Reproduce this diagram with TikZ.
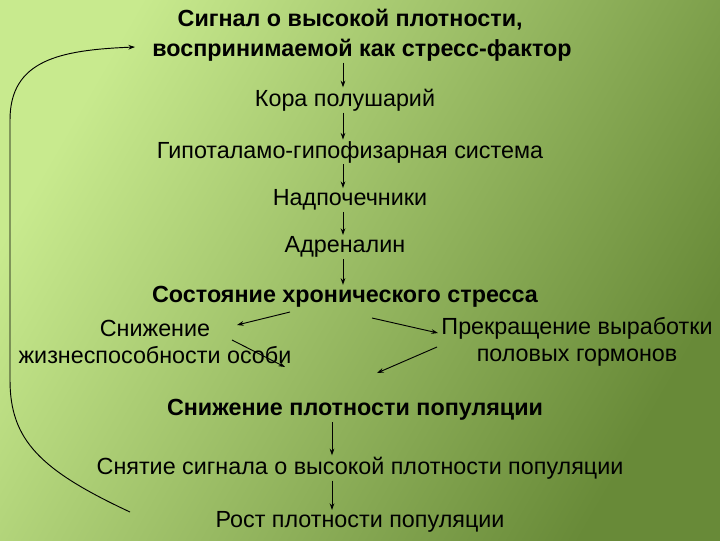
\documentclass[tikz,border=0pt]{standalone}
\usepackage{fontspec}
\setmainfont{Liberation Sans}
\usetikzlibrary{arrows.meta,calc}
\definecolor{bgA}{RGB}{200,234,142}
\definecolor{bgB}{RGB}{104,138,56}
\begin{document}
\begin{tikzpicture}[x=0.75pt,y=-0.75pt,
  lbl/.style={font=\fontsize{17.5}{20.5}\selectfont, inner sep=1pt, align=center},
  bld/.style={lbl, font=\fontsize{17.5}{22.5}\selectfont\bfseries},
  arr/.style={-{Stealth[length=5pt,width=3.5pt]}, line width=0.7pt}]
\shade[shading=axis, top color=bgA, bottom color=bgB, shading angle=60] (0,0) rectangle (720,540);
\useasboundingbox (0,0) rectangle (720,540);
\node[bld, align=left] (sig) at (362,35) {\hspace*{19pt}Сигнал о высокой плотности,\\воспринимаемой как стресс-фактор};
\node[lbl] (kora) at (345,100) {Кора полушарий};
\node[lbl] (gip) at (350,152) {Гипоталамо-гипофизарная система};
\node[lbl] (nad) at (350,200) {Надпочечники};
\node[lbl] (adr) at (345,247) {Адреналин};
\node[bld] (sost) at (345,297) {Состояние хронического стресса};
\node[lbl] (sniz) at (155,342) {Снижение\\жизнеспособности особи};
\node[lbl] (prek) at (577,342) {Прекращение выработки\\половых гормонов};
\node[bld] (splot) at (355,410) {Снижение плотности популяции};
\node[lbl] (snyat) at (360,468) {Снятие сигнала о высокой плотности популяции};
\node[lbl] (rost) at (360,522) {Рост плотности популяции};
\coordinate (c1) at (343,0);
\coordinate (c2) at (332,0);
\draw[arr] (sig.south -| c1) -- (kora.north -| c1);
\draw[arr] (kora.south -| c1) -- (gip.north -| c1);
\draw[arr] (gip.south -| c1) -- (nad.north -| c1);
\draw[arr] (nad.south -| c1) -- (adr.north -| c1);
\draw[arr] (adr.south -| c1) -- (sost.north -| c1);
\draw[arr] (290,312) -- (237,325);
\draw[arr] (372,318) -- (438,333);
\draw[arr] (232,340) -- (285,367);
\draw[arr] (437,347) -- (377,373);
\draw[arr] (splot.south -| c2) -- (snyat.north -| c2);
\draw[arr] (snyat.south -| c2) -- (rost.north -| c2);
\coordinate (fb) at (130,512);
\draw[arr] (fb) .. controls (40,470) and (10,440) .. (10,380) -- (10,120) .. controls (10,60) and (60,50) .. (135,47);
\end{tikzpicture}
\end{document}
